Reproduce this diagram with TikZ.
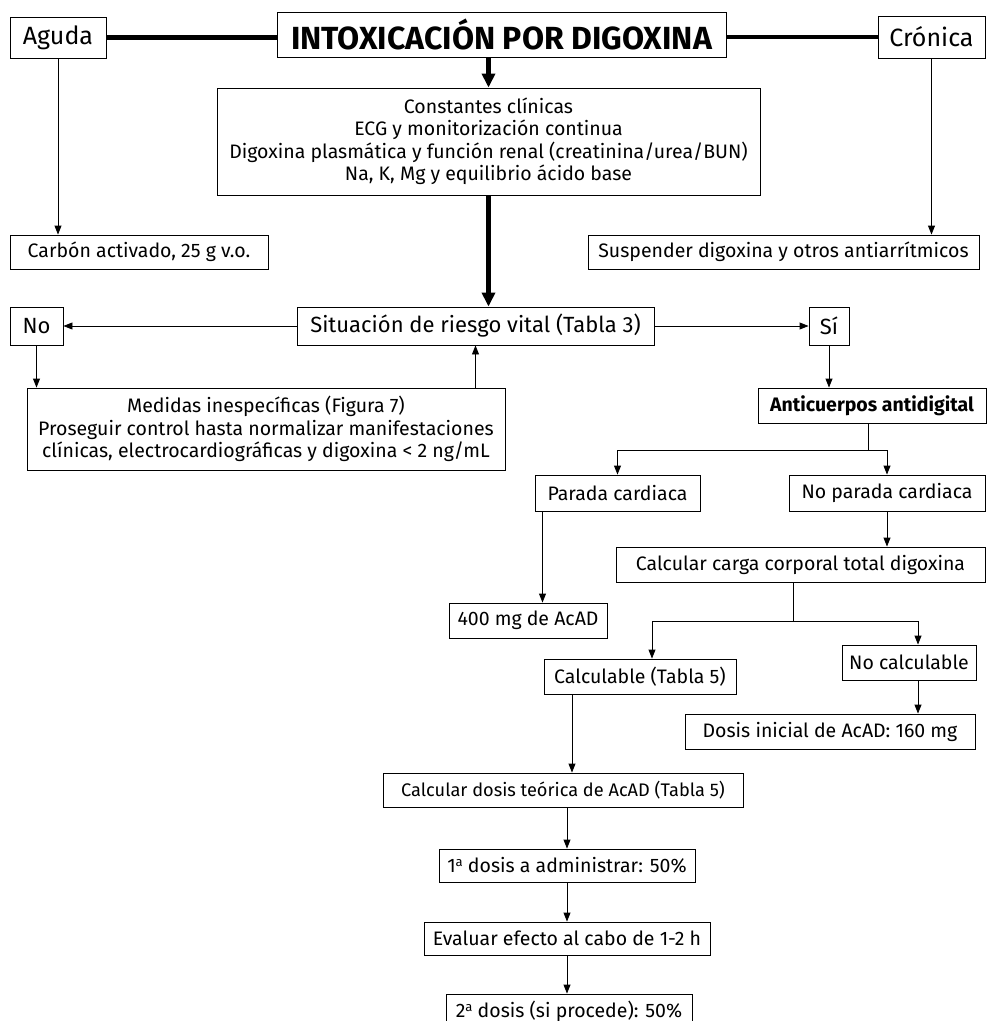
\documentclass[tikz,border=0pt]{standalone}
\usepackage{fontspec}
\setmainfont{Fira Sans}
\usetikzlibrary{arrows.meta}
\newcommand{\ordsup}[1]{\raisebox{0.6ex}{\fontsize{13}{13}\selectfont #1}}
\begin{document}
\begin{tikzpicture}[x=1pt,y=-1pt,
  box/.style={draw, line width=0.9pt, inner sep=0pt, minimum height=35pt, align=center,
    font=\fontsize{19.5}{22.5}\selectfont},
  mid/.style={font=\fontsize{22}{26}\selectfont},
  big/.style={font=\fontsize{25}{30}\selectfont},
  arr/.style={-{Triangle[length=9pt,width=7pt]}, line width=0.9pt},
  plain/.style={line width=0.9pt},
  thickln/.style={line width=4.2pt},
  thickarr/.style={-{Triangle[length=14pt,width=13pt]}, line width=4.2pt}]
\useasboundingbox (0,0) rectangle (989,1021);
\begin{scope}
\clip (0,0) rectangle (989,1021);
% top row
\node[box, big, minimum width=96pt, minimum height=41pt] (aguda) at (58,37.5) {Aguda};
\node[box, minimum width=449pt, minimum height=45pt, font=\bfseries\fontsize{32}{36}\selectfont] (title) at (501.5,34.5) {INTOXICACIÓN POR DIGOXINA};
\node[box, big, minimum width=107pt, minimum height=42pt] (cronica) at (931.5,37) {Crónica};
\node[box, minimum width=543pt, minimum height=107pt] (const) at (488.5,141.5) {Constantes clínicas\\ECG y monitorización continua\\Digoxina plasmática y función renal (creatinina/urea/BUN)\\Na, K, Mg y equilibrio ácido base};
\node[box, minimum width=258pt, minimum height=34pt] (carbon) at (139,252) {Carbón activado, 25 g v.o.};
\node[box, minimum width=391pt, minimum height=34pt] (susp) at (783.5,252) {Suspender digoxina y otros antiarrítmicos};
% decision row
\node[box, mid, minimum width=357pt, minimum height=38pt] (sit) at (475.5,326) {Situación de riesgo vital (Tabla 3)};
\node[box, mid, minimum width=53pt, minimum height=38pt] (no) at (36.5,326) {No};
\node[box, mid, minimum width=40pt, minimum height=38pt] (si) at (829,326) {Sí};
\node[box, minimum width=478pt, minimum height=82pt] (medidas) at (266,429) {Medidas inespecíficas (Figura 7)\\Proseguir control hasta normalizar manifestaciones\\clínicas, electrocardiográficas y digoxina < 2 ng/mL};
\node[box, minimum width=228pt, minimum height=35pt, font=\bfseries\fontsize{19.5}{22.5}\selectfont] (anti) at (872,405.5) {Anticuerpos antidigital};
\node[box, minimum width=165pt, minimum height=36pt] (parada) at (617.5,493) {Parada cardiaca};
\node[box, minimum width=196pt, minimum height=36pt] (noparada) at (887,493) {No parada cardiaca};
\node[box, minimum width=369pt, minimum height=35pt] (carga) at (800.5,564.5) {Calcular carga corporal total digoxina};
\node[box, minimum width=158pt, minimum height=35pt] (mg) at (528,620.5) {400 mg de AcAD};
\node[box, minimum width=192pt, minimum height=35pt] (calc) at (640,676.5) {Calculable (Tabla 5)};
\node[box, minimum width=134pt, minimum height=35pt] (nocalc) at (909,662.5) {No calculable};
\node[box, minimum width=290pt, minimum height=35pt] (ini) at (830,731.5) {Dosis inicial de AcAD: 160 mg};
\node[box, minimum width=360pt, minimum height=34pt, font=\fontsize{18.2}{22}\selectfont] (teor) at (563,790) {Calcular dosis teórica de AcAD (Tabla 5)};
\node[box, minimum width=256pt, minimum height=33pt] (d1) at (567,865.5) {1\ordsup{a} dosis a administrar: 50\%};
\node[box, minimum width=286pt, minimum height=33pt] (eval) at (567,938.5) {Evaluar efecto al cabo de 1-2 h};
\node[box, minimum width=246pt, minimum height=34pt] (d2) at (569,1011) {2\ordsup{a} dosis (si procede): 50\%};
% connectors
\draw[thickln] (aguda.east) -- (aguda.east -| title.west);
\draw[thickln] (cronica.west) -- (cronica.west -| title.east);
\draw[thickarr] (const.north |- title.south) -- (const.north);
\draw[thickarr] (const.south) -- (const.south |- sit.north);
\draw[arr] (aguda.south) -- (aguda.south |- carbon.north);
\draw[arr] (cronica.south) -- (cronica.south |- susp.north);
\draw[arr] (sit.west) -- (no.east);
\draw[arr] (sit.east) -- (si.west);
\draw[arr] (no.south) -- (no.south |- medidas.north);
\draw[arr] (sit.south |- medidas.north) -- (sit.south);
\draw[arr] (si.south) -- (si.south |- anti.north);
\coordinate (b1) at ([xshift=-4pt]anti.south |- 0,450);
\draw[plain] (anti.south -| b1) -- (b1);
\draw[arr] (b1) -| (parada.north);
\draw[arr] (b1) -| (noparada.north);
\draw[arr] ([xshift=-75pt]parada.south) -- ([xshift=-75pt]parada.south |- mg.north);
\draw[arr] (noparada.south) -- (noparada.south |- carga.north);
\coordinate (b2) at ([xshift=-7.5pt]carga.south |- 0,621);
\draw[plain] (carga.south -| b2) -- (b2);
\draw[arr] (b2) -| ([xshift=12pt]calc.north);
\draw[arr] (b2) -| ([xshift=9pt]nocalc.north);
\draw[arr] ([xshift=9pt]nocalc.south) -- ([xshift=9pt]nocalc.south |- ini.north);
\draw[arr] ([xshift=-68pt]calc.south) -- ([xshift=-68pt]calc.south |- teor.north);
\draw[arr] (d1.north |- teor.south) -- (d1.north);
\draw[arr] (d1.south) -- (d1.south |- eval.north);
\draw[arr] (eval.south) -- (eval.south |- d2.north);
\end{scope}
\end{tikzpicture}
\end{document}
